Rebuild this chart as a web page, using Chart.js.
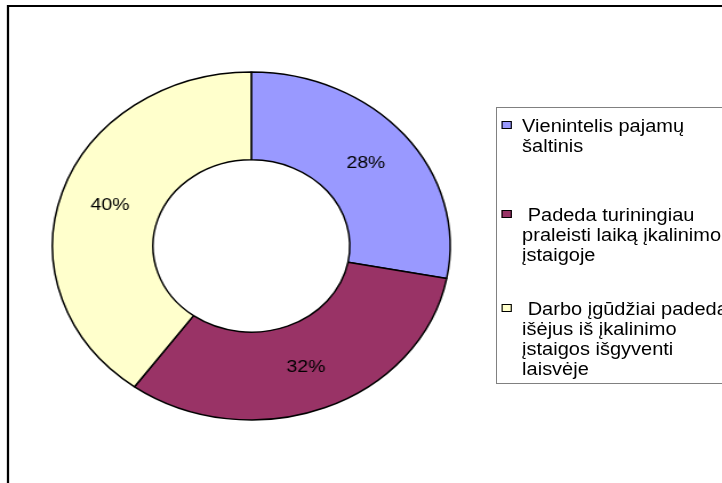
<!DOCTYPE html>
<html>
<head>
<meta charset="utf-8">
<script src="https://cdn.jsdelivr.net/npm/chart.js@4/dist/chart.umd.min.js"></script>
<style>
  html, body { margin: 0; padding: 0; background: #fff; overflow: hidden; width: 722px; height: 483px; }
  #stage { position: absolute; left: 0; top: 0; width: 632px; height: 483px; transform: scaleX(1.1425); transform-origin: 0 0; }
  #frame { position: absolute; left: 6px; top: 5px; width: 720px; height: 600px; border: 2px solid #000; box-sizing: border-box; }
  #chart { position: absolute; left: 0; top: 66px; }
  #legend { position: absolute; left: 434px; top: 107px; width: 260px; height: 277px; border: 1px solid #808080; box-sizing: border-box; padding-top: 8px;
            font-family: "Liberation Sans", Arial, sans-serif; font-size: 17.5px; line-height: 20px; color: #000; }
  .item { position: relative; padding-left: 22px; white-space: pre; }
  .mk { position: absolute; left: 3.5px; top: 4.5px; width: 9px; height: 8px; border: 1px solid #000; box-sizing: border-box; }
</style>
</head>
<body>
<div id="stage">
  <div id="frame"></div>
  <canvas id="chart" width="440" height="360"></canvas>
  <div id="legend"></div>
</div>
<script>
const categories = [
  ["Vienintelis pajamų", "šaltinis"],
  [" Padeda turiningiau", "praleisti laiką įkalinimo", "įstaigoje"],
  [" Darbo įgūdžiai padeda", "išėjus iš įkalinimo", "įstaigos išgyventi", "laisvėje"]
];
const values = [28, 32, 40];
const colors = ["#9999FF", "#993366", "#FFFFCC"];
const itemGaps = [0, 49, 34];

const pctLabels = {
  id: 'pctLabels',
  afterDatasetsDraw(chart) {
    const ctx = chart.ctx;
    const meta = chart.getDatasetMeta(0);
    const data = chart.data.datasets[0].data;
    const total = data.reduce((a, b) => a + b, 0);
    ctx.save();
    ctx.font = '17px "Liberation Sans", Arial, sans-serif';
    ctx.fillStyle = '#000';
    ctx.textAlign = 'center';
    ctx.textBaseline = 'middle';
    meta.data.forEach((arc, i) => {
      const p = arc.tooltipPosition();
      ctx.fillText(Math.round(data[i] / total * 100) + '%', p.x, p.y);
    });
    ctx.restore();
  }
};

new Chart(document.getElementById('chart'), {
  type: 'doughnut',
  data: {
    labels: categories,
    datasets: [{
      data: values,
      backgroundColor: colors,
      borderColor: '#000',
      borderWidth: 1.5
    }]
  },
  options: {
    responsive: false,
    animation: false,
    radius: 174,
    cutout: '49.5%',
    layout: { padding: 0 },
    plugins: { legend: { display: false }, tooltip: { enabled: false } }
  },
  plugins: [pctLabels]
});

const legend = document.getElementById('legend');
categories.forEach((lines, i) => {
  const item = document.createElement('div');
  item.className = 'item';
  item.style.marginTop = itemGaps[i] + 'px';
  const mk = document.createElement('span');
  mk.className = 'mk';
  mk.style.background = colors[i];
  item.appendChild(mk);
  item.appendChild(document.createTextNode(lines.join('\n')));
  legend.appendChild(item);
});
</script>
</body>
</html>
